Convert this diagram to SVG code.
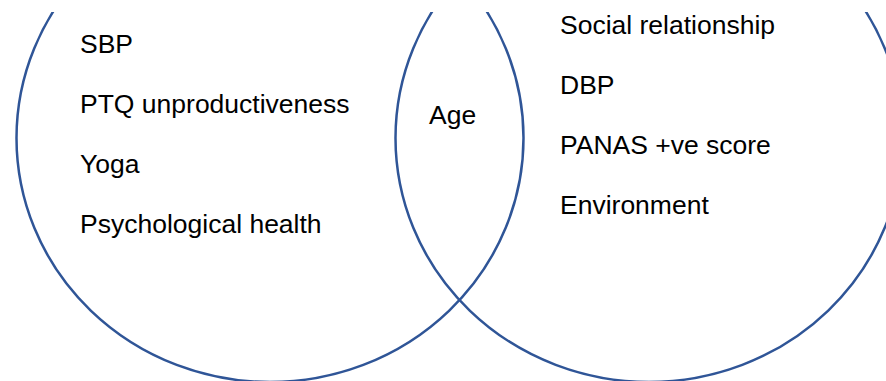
<svg xmlns="http://www.w3.org/2000/svg" width="886" height="381" viewBox="0 0 886 381">
  <style>
    .set { fill: none; stroke: #2F5597; stroke-width: 2.5; }
    .lbl { font-family: "Liberation Sans", Arial, sans-serif; font-size: 26.5px; fill: #000000; }
  </style>
  <defs>
    <clipPath id="frame">
      <rect x="0" y="12" width="886" height="369"/>
    </clipPath>
  </defs>
  <rect width="886" height="381" fill="#ffffff"/>
  <g id="set-left" clip-path="url(#frame)">
    <ellipse class="set" cx="270" cy="138" rx="253.5" ry="244"/>
  </g>
  <g id="set-right" clip-path="url(#frame)">
    <ellipse class="set" cx="649" cy="138" rx="253.5" ry="244"/>
  </g>
  <g id="left-labels" class="lbl">
    <text x="80" y="53">SBP</text>
    <text x="80" y="113">PTQ unproductiveness</text>
    <text x="80" y="173">Yoga</text>
    <text x="80" y="233">Psychological health</text>
  </g>
  <g id="overlap-label" class="lbl">
    <text x="429" y="124">Age</text>
  </g>
  <g id="right-labels" class="lbl">
    <text x="560" y="34">Social relationship</text>
    <text x="560" y="94">DBP</text>
    <text x="560" y="154">PANAS +ve score</text>
    <text x="560" y="214">Environment</text>
  </g>
</svg>
